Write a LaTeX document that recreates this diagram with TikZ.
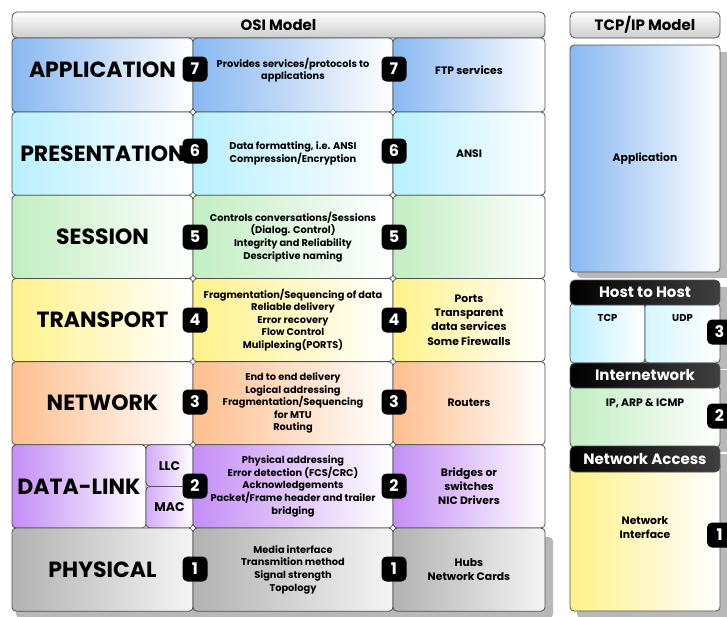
\documentclass[tikz,border=0pt]{standalone}
\usepackage{fontspec}
\setmainfont{Poppins}
\usetikzlibrary{positioning}

\definecolor{cellline}{HTML}{505050}
\definecolor{appblue}{HTML}{88B8F2}
\definecolor{prescyan}{HTML}{B8F0FF}
\definecolor{sessgreen}{HTML}{C2EEC2}
\definecolor{transyellow}{HTML}{FFF28A}
\definecolor{netorange}{HTML}{FFBF8E}
\definecolor{linkpurple}{HTML}{C48EF6}
\definecolor{physgray}{HTML}{B2B2B2}
\definecolor{shadowgray}{HTML}{B8B8B8}

\begin{document}
\begin{tikzpicture}[x=1pt, y=-1pt,
	cell/.style={draw=cellline, line width=0.8pt, rounded corners=4pt, left color=#1, right color=white,
		inner sep=0pt, align=center, font=\bfseries\fontsize{9.8}{12.6}\selectfont},
	side/.style={font=\bfseries\fontsize{10.8}{14.3}\selectfont},
	body/.style={inner sep=0pt, align=center, font=\bfseries\fontsize{9.8}{12.6}\selectfont},
	txt/.style={inner sep=0pt, align=center, side},
	big/.style={font=\bfseries\fontsize{22}{24}\selectfont},
	c1/.style={minimum width=181pt, minimum height=83.2pt},
	c2/.style={minimum width=200pt, minimum height=83.2pt},
	c3/.style={minimum width=152pt, minimum height=83.2pt, side},
	badge/.style={fill=black, text=white, rounded corners=5pt, minimum width=25pt, minimum height=25pt,
		inner sep=0pt, font=\bfseries\fontsize{16}{16}\selectfont},
	lhead/.style={draw=cellline, line width=0.8pt, rounded corners=5pt, top color=white, bottom color=gray!40,
		inner sep=0pt, font=\bfseries\fontsize{15}{17}\selectfont},
	dhead/.style={draw=cellline, line width=0.8pt, rounded corners=5pt, left color=black, right color=gray!50!black,
		text=white, inner sep=0pt, minimum width=150pt, minimum height=25pt, font=\bfseries\fontsize{15}{17}\selectfont},
	shadow/.style={fill=shadowgray, rounded corners=4pt}]
	\useasboundingbox (0,0) rectangle (727,616);
	\clip (0,0) rectangle (727,616);
	
	% shadows
	\fill[shadow] (16,537) rectangle (553,618);
	\fill[shadow] (577,52) rectangle (730,278);
	\fill[shadow] (577,287) rectangle (730,369);
	\fill[shadow] (577,370) rectangle (730,452);
	\fill[shadow] (577,454) rectangle (730,618);
	
	% OSI model
	\node[lhead, minimum width=533pt, minimum height=26pt] (osi) at (278.5,25) {OSI Model};
	
	\node[cell=appblue, c1, minimum height=74pt] (appname) at (102.5,75) {};
	\node[cell=appblue, c2, minimum height=74pt] (appdesc) at (293,75) {};
	\node[cell=appblue, c3, minimum height=74pt] (appdev) at (469,75) {};
	\node[body, big] (apptxt) at (102.5,70) {APPLICATION};
	\node[body] (appdesctxt) at (293,70) {Provides services/protocols to\\applications};
	\node[txt] (appdevtxt) at (469,70) {FTP services};
	
	\node[cell=prescyan, c1, big] (presname) at (102.5,153.6) {PRESENTATION};
	\node[cell=prescyan, c2] (presdesc) at (293,153.6) {Data formatting, i.e. ANSI\\Compression/Encryption};
	\node[cell=prescyan, c3] (presdev) at (469,153.6) {ANSI};
	
	\node[cell=sessgreen, c1, big] (sessname) at (102.5,236.8) {SESSION};
	\node[cell=sessgreen, c2] (sessdesc) at (293,236.8) {Controls conversations/Sessions\\(Dialog. Control)\\Integrity and Reliability\\Descriptive naming};
	\node[cell=sessgreen, c3] (sessdev) at (469,236.8) {};
	
	\node[cell=transyellow, c1, big] (transname) at (102.5,320) {TRANSPORT};
	\node[cell=transyellow, c2] (transdesc) at (293,320) {Fragmentation/Sequencing of data\\Reliable delivery\\Error recovery\\Flow Control\\Muliplexing(PORTS)};
	\node[cell=transyellow, c3] (transdev) at (469,320) {Ports\\Transparent\\data services\\Some Firewalls};
	
	\node[cell=netorange, c1, big] (netname) at (102.5,403.2) {NETWORK};
	\node[cell=netorange, c2] (netdesc) at (293,403.2) {End to end delivery\\Logical addressing\\Fragmentation/Sequencing\\for MTU\\Routing};
	\node[cell=netorange, c3] (netdev) at (469,403.2) {Routers};
	
	\node[cell=linkpurple, minimum width=134pt, minimum height=83.2pt, big] (linkname) at (79,486.4) {DATA-LINK};
	\node[cell=linkpurple!75, minimum width=47pt, minimum height=41.6pt, font=\bfseries\fontsize{12.5}{14}\selectfont] (llc) at (169.5,465.6) {LLC};
	\node[cell=linkpurple!75, minimum width=47pt, minimum height=41.6pt, font=\bfseries\fontsize{12.5}{14}\selectfont] (mac) at (169.5,507.2) {MAC};
	\node[cell=linkpurple, c2] (linkdesc) at (293,486.4) {Physical addressing\\Error detection (FCS/CRC)\\Acknowledgements\\Packet/Frame header and trailer\\bridging};
	\node[cell=linkpurple, c3] (linkdev) at (469,486.4) {Bridges or\\switches\\NIC Drivers};
	
	\node[cell=physgray, right color=gray!8, c1, big] (physname) at (102.5,569.6) {PHYSICAL};
	\node[cell=physgray, right color=gray!8, c2] (physdesc) at (293,569.6) {Media interface\\Transmition method\\Signal strength\\Topology};
	\node[cell=physgray, right color=gray!8, c3] (physdev) at (469,569.6) {Hubs\\Network Cards};
	
	% small joints
	\foreach \y in {112,195.2,278.4,361.6,444.8,528}{
		\foreach \x in {193,393}{
			\draw[fill=white, draw=cellline, line width=0.5pt] (\x,\y) +(0,-3) -- +(3,0) -- +(0,3) -- +(-3,0) -- cycle;
		}
	}
	
	% layer numbers
	\foreach \n/\y in {7/69,6/151,5/237,4/320,3/402,2/486,1/569}{
		\node[badge] (bl\n) at (195,\y) {\n};
		\node[badge] (br\n) at (394,\y) {\n};
	}
	
	% TCP/IP model
	\node[lhead, minimum width=150pt, minimum height=26pt] (tcpip) at (645,25) {TCP/IP Model};
	\node[cell=appblue, side, minimum width=150pt, minimum height=227pt] (tapp) at (645,158.5) {Application};
	
	\node[cell=prescyan, minimum width=75pt, minimum height=60pt] (tcp) at (607.5,333) {};
	\node[cell=prescyan!60, minimum width=75pt, minimum height=60pt] (udp) at (682.5,333) {};
	\node[dhead] (host) at (645,292.5) {Host to Host};
	\node[txt, below=12pt of tcp.north, font=\bfseries\fontsize{10}{12}\selectfont] (tcptxt) {TCP};
	\node[txt, below=12pt of udp.north, font=\bfseries\fontsize{10}{12}\selectfont] (udptxt) {UDP};
	
	\node[cell=sessgreen, minimum width=150pt, minimum height=62pt] (inet) at (645,416) {};
	\node[dhead] (inethead) at (645,375.5) {Internetwork};
	\node[txt, below=10pt of inethead.south] (ip) {IP, ARP \& ICMP};
	
	\node[cell=transyellow, minimum width=150pt, minimum height=150pt] (nacc) at (645,536) {};
	\node[dhead, minimum height=26pt] (nacchead) at (645,459) {Network Access};
	\node[txt] (ntxt) at (645,527.5) {Network\\Interface};
	
	\node[badge] (tr3) at (719.5,332) {3};
	\node[badge] (tr2) at (719.5,416) {2};
	\node[badge] (tr1) at (719.5,535) {1};
\end{tikzpicture}
\end{document}
